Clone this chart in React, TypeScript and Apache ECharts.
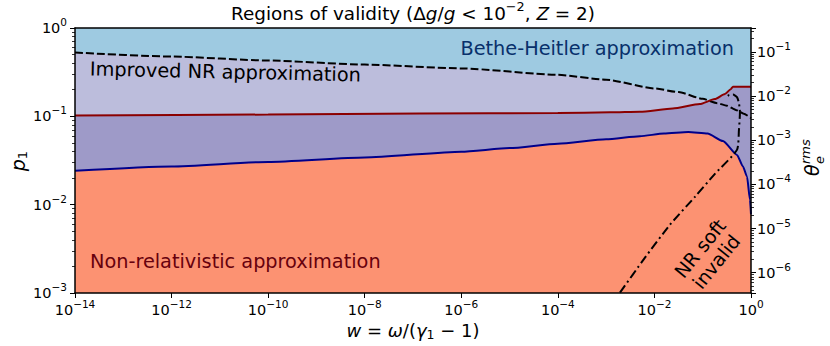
import React, { useEffect, useRef } from 'react';
import * as echarts from 'echarts';

const FONT = 'DejaVu Sans';

// x values are log10(w); y values are p1
const dashedLogW = [-14, -12, -10, -8, -6, -4, -3, -2, -1.5, -1, -0.7, -0.5, -0.3, -0.15, 0];
const dashedP = [0.527, 0.475, 0.428, 0.385, 0.349, 0.295, 0.26, 0.207, 0.188, 0.158, 0.141, 0.132, 0.1175, 0.107, 0.0955];

const redLogW = [-14, -10, -6.86, -4, -2.92, -2.3, -1.62, -1.06, -0.75, -0.54, -0.42, -0.374, 0];
const redP = [0.102, 0.1047, 0.1076, 0.109, 0.111, 0.1127, 0.1225, 0.1377, 0.1567, 0.1786, 0.2032, 0.216, 0.216];

const blueLogW = [-14, -12, -10, -8, -6, -5, -4, -3, -2.3, -1.8, -1.3, -0.9, -0.58, -0.29, -0.166, -0.083, -0.021, 0];
const blueP = [0.0242, 0.0271, 0.0305, 0.0342, 0.0398, 0.0437, 0.049, 0.055, 0.0596, 0.0638, 0.0664, 0.0638, 0.0525, 0.0366, 0.027, 0.0208, 0.01135, 0.0078];

const softLogW = [-2.714, -2.196, -1.678, -1.16, -0.747, -0.291, -0.25, -0.229, -0.25, -0.291, -0.374, -0.457, -0.52];
const softP = [0.00101, 0.00251, 0.00593, 0.01227, 0.02234, 0.0417, 0.0698, 0.1114, 0.1413, 0.1652, 0.1762, 0.1738, 0.1652];

const LOGW_MIN = -14;
const LOGW_MAX = 0;
const LOGW_STEP = 2;
const P_MIN = 1e-3;
const P_MAX = 1;
const THETA_MIN = 3.47e-7;
const THETA_MAX = 0.347;

const C_BH = '#9ecae1';
const C_IMP = '#bcbddc';
const C_MID = '#9e9ac8';
const C_NR = '#fc9272';
const C_RED = '#8b0000';
const C_BLUE = '#00008b';

function pairs(xs: number[], ys: number[]) {
  return xs.map((x, i) => [x, ys[i]]);
}

function powLabel(e: number) {
  const s = e < 0 ? '\u2212' + -e : String(e);
  return '{b|10}{s|' + s + '}';
}

const tickRich = {
  b: { fontSize: 14.5, fontFamily: FONT, color: '#000' },
  s: { fontSize: 10.5, fontFamily: FONT, color: '#000', padding: [0, 0, 12, 0] },
};

const axisLineStyle = { show: true, onZero: false, lineStyle: { color: '#000', width: 1.5 } };

function areaSeries(xs: number[], ys: number[], color: string, monotone: boolean) {
  return {
    type: 'line',
    data: pairs(xs, ys),
    symbol: 'none',
    smooth: 0.2,
    smoothMonotone: monotone ? 'x' : undefined,
    lineStyle: { width: 0 },
    areaStyle: { color, opacity: 1, origin: 'start' },
    silent: true,
    z: 2,
  };
}

function lineSeries(xs: number[], ys: number[], color: string, type: any, monotone: boolean) {
  return {
    type: 'line',
    data: pairs(xs, ys),
    symbol: 'none',
    smooth: 0.2,
    smoothMonotone: monotone ? 'x' : undefined,
    lineStyle: { color, width: 2, type },
    silent: true,
    z: 3,
  };
}

function txt(x: number, y: number, text: string, style: any, extra: any = {}) {
  return {
    type: 'text',
    x,
    y,
    z: 100,
    ...extra,
    style: {
      text,
      fontFamily: FONT,
      fill: '#000',
      align: style.align || 'left',
      textAlign: style.align || 'left',
      verticalAlign: 'middle',
      textVerticalAlign: 'middle',
      ...style,
    },
  };
}

export default function App() {
  const ref = useRef<HTMLDivElement>(null);
  useEffect(() => {
    if (!ref.current) return;
    const chart = echarts.init(ref.current, null, { renderer: 'svg' });
    const titleRich = {
      a: { fontSize: 18.4, fontFamily: FONT, fill: '#000' },
      i: { fontSize: 18.4, fontFamily: FONT, fontStyle: 'italic', fill: '#000' },
      s: { fontSize: 12.8, fontFamily: FONT, fill: '#000', padding: [0, 0, 14, 0] },
    };
    const xlabRich = {
      a: { fontSize: 18, fontFamily: FONT, fill: '#000' },
      i: { fontSize: 18, fontFamily: FONT, fontStyle: 'italic', fill: '#000' },
      sub: { fontSize: 12.5, fontFamily: FONT, fill: '#000', padding: [9, 0, 0, 0] },
    };
    const option: any = {
      animation: false,
      grid: {
        left: 75,
        right: 79,
        top: 28,
        bottom: 53,
        show: true,
        backgroundColor: C_BH,
        borderWidth: 0,
        outerBoundsMode: 'none',
        containLabel: false,
      },
      xAxis: [
        {
          type: 'value',
          min: LOGW_MIN,
          max: LOGW_MAX,
          interval: LOGW_STEP,
          position: 'bottom',
          z: 10,
          axisLine: axisLineStyle,
          axisTick: { show: true, length: 5, lineStyle: { color: '#000', width: 1 } },
          splitLine: { show: false },
          axisLabel: {
            margin: 5,
            formatter: (v: number) => powLabel(Math.round(v)),
            rich: tickRich,
          },
        },
        {
          type: 'value',
          min: LOGW_MIN,
          max: LOGW_MAX,
          position: 'top',
          z: 10,
          axisLine: axisLineStyle,
          axisTick: { show: false },
          axisLabel: { show: false },
          splitLine: { show: false },
        },
      ],
      yAxis: [
        {
          type: 'log',
          logBase: 10,
          min: P_MIN,
          max: P_MAX,
          position: 'left',
          z: 10,
          axisLine: axisLineStyle,
          axisTick: { show: true, length: 5, lineStyle: { color: '#000', width: 1 } },
          minorTick: { show: true, splitNumber: 9, length: 3, lineStyle: { color: '#000', width: 0.8 } },
          splitLine: { show: false },
          minorSplitLine: { show: false },
          axisLabel: {
            margin: 8,
            formatter: (v: number) => powLabel(Math.round(Math.log10(v))),
            rich: tickRich,
          },
        },
        {
          type: 'log',
          logBase: 10,
          min: THETA_MIN,
          max: THETA_MAX,
          position: 'right',
          z: 10,
          axisLine: axisLineStyle,
          axisTick: { show: true, length: 5, lineStyle: { color: '#000', width: 1 } },
          minorTick: { show: true, splitNumber: 9, length: 3, lineStyle: { color: '#000', width: 0.8 } },
          splitLine: { show: false },
          minorSplitLine: { show: false },
          axisLabel: {
            margin: 6,
            showMinLabel: false,
            showMaxLabel: false,
            formatter: (v: number) => powLabel(Math.round(Math.log10(v))),
            rich: tickRich,
          },
        },
      ],
      series: [
        areaSeries(dashedLogW, dashedP, C_IMP, true),
        areaSeries(redLogW, redP, C_MID, true),
        areaSeries(blueLogW, blueP, C_NR, true),
        lineSeries(dashedLogW, dashedP, '#000', [8, 3], true),
        lineSeries(redLogW, redP, C_RED, 'solid', true),
        lineSeries(blueLogW, blueP, C_BLUE, 'solid', true),
        lineSeries(softLogW, softP, '#000', [9, 3.5, 2, 3.5], false),
      ],
      graphic: {
        elements: [
          txt(413, 13, '{a|Regions of validity (Δ}{i|g}{a|/}{i|g}{a| < 10}{s|\u22122}{a|, }{i|Z}{a| = 2)}', {
            align: 'center',
            rich: titleRich,
          }),
          txt(90, 69, 'Improved NR approximation', { fontSize: 19.3, fill: '#000' }, { rotation: -0.022 }),
          txt(734, 48.5, 'Bethe-Heitler approximation', { fontSize: 19.3, fill: '#08306b', align: 'right' }),
          txt(90, 261, 'Non-relativistic approximation', { fontSize: 19.3, fill: '#67000d' }),
          txt(708, 255, 'NR soft\ninvalid', { fontSize: 19, lineHeight: 21, align: 'center', fill: '#000' }, { rotation: 0.89 }),
          txt(413, 330, '{i|w}{a| = }{i|ω}{a|/(}{i|γ}{sub|1}{a| \u2212 1)}', { align: 'center', rich: xlabRich }),
          txt(18, 161, '{i|p}{sub|1}', {
            align: 'center',
            rich: {
              i: { fontSize: 19, fontFamily: FONT, fontStyle: 'italic', fill: '#000' },
              sub: { fontSize: 13, fontFamily: FONT, fill: '#000', padding: [9, 0, 0, 0] },
            },
          }, { rotation: Math.PI / 2 }),
          {
            type: 'group',
            x: 812,
            y: 159,
            rotation: Math.PI / 2,
            z: 100,
            children: [
              txt(-17, 0, 'θ', { fontSize: 19, fontStyle: 'italic' }),
              txt(-5, -7, 'rms', { fontSize: 13, fontStyle: 'italic' }),
              txt(-5, 7, 'e', { fontSize: 13, fontStyle: 'italic' }),
            ],
          },
        ],
      },
    };
    chart.setOption(option);
    return () => chart.dispose();
  }, []);
  return <div ref={ref} style={{ position: 'absolute', left: 0, top: 0, width: 830, height: 346 }} />;
}
